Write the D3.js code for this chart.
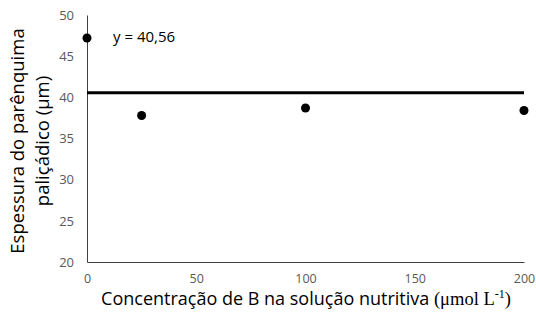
<!DOCTYPE html>
<html>
<head>
<meta charset="utf-8">
<script src="https://cdn.jsdelivr.net/npm/d3@7"></script>
<style>
  body { margin: 0; background: #fff; }
</style>
</head>
<body>
<div id="chart"></div>
<script>
// data
var concentracao = [0, 25, 100, 200];
var espessura = [47.2, 37.8, 38.7, 38.4];
var media = 40.56;
var xTicks = [0, 50, 100, 150, 200];
var yTicks = [20, 25, 30, 35, 40, 45, 50];

var width = 536, height = 320;
const margin = { top: 15, left: 87, bottom: 58, right: 12 };
var font = "'Open Sans', 'Noto Sans', sans-serif";
var serif = "'Liberation Serif', 'Times New Roman', serif";

var svg = d3.select("#chart")
    .append("svg")
    .attr("width", width)
    .attr("height", height);

var x = d3.scaleLinear().domain([0, 200]).range([margin.left, width - margin.right]);
var y = d3.scaleLinear().domain([20, 50]).range([height - margin.bottom, margin.top]);

// X axis
svg.append("g")
    .attr("transform", "translate(0," + y(20) + ")")
    .style("font-family", font)
    .style("font-size", "12.5px")
    .style("color", "#595959")
    .call(d3.axisBottom(x).tickValues(xTicks).tickSize(0).tickPadding(12))
    .call(g => g.select(".domain").style("stroke", "#404040"));

// Y axis
svg.append("g")
    .attr("transform", "translate(" + x(0) + ",0)")
    .style("font-family", font)
    .style("font-size", "13px")
    .style("color", "#595959")
    .call(d3.axisLeft(y).tickValues(yTicks).tickSize(0).tickPadding(13))
    .call(g => g.select(".domain").style("stroke", "#404040"));

// mean line
svg.append("line")
    .attr("x1", x(0))
    .attr("x2", x(200))
    .attr("y1", y(media))
    .attr("y2", y(media))
    .style("stroke", "#000")
    .style("stroke-width", 3);

// points
svg.selectAll("circle.pt")
    .data(concentracao)
    .enter().append("circle")
    .attr("class", "pt")
    .attr("cx", d => x(d))
    .attr("cy", (d, i) => y(espessura[i]))
    .attr("r", 4.5)
    .style("fill", "#000");

// equation label
svg.append("text")
    .attr("x", 113)
    .attr("y", 42)
    .style("font-family", font)
    .style("font-size", "15px")
    .style("fill", "#000")
    .text("y = 40,56");

// Y axis title
var yt = svg.append("text")
    .attr("transform", "translate(18," + 141 + ") rotate(-90)")
    .style("text-anchor", "middle")
    .style("font-family", font)
    .style("font-size", "18.5px")
    .style("fill", "#000");
yt.append("tspan").attr("x", 0).attr("dy", "0.35em").text("Espessura do parênquima");
yt.append("tspan").attr("x", 0).attr("dy", "1.35em").text("paliçádico (μm)");

// X axis title
var xt = svg.append("text")
    .attr("x", 306)
    .attr("y", 305)
    .style("text-anchor", "middle")
    .style("font-family", font)
    .style("font-size", "18px")
    .style("fill", "#000");
xt.append("tspan").text("Concentração  de B na solução nutritiva ");
xt.append("tspan").style("font-family", serif).style("font-size", "18.5px").text("(μmol L");
xt.append("tspan").style("font-family", serif).style("font-size", "12px").attr("dy", "-7").text("-1");
xt.append("tspan").style("font-family", serif).style("font-size", "18.5px").attr("dy", "7").text(")");
</script>
</body>
</html>
